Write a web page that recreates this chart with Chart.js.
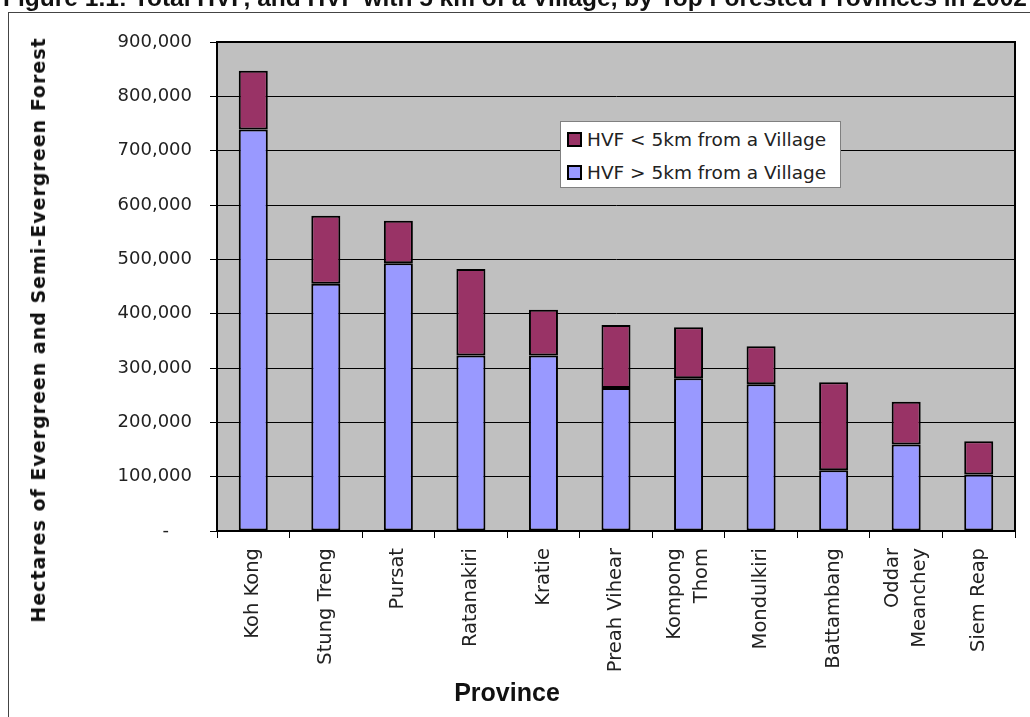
<!DOCTYPE html>
<html>
<head>
<meta charset="utf-8">
<script src="https://cdn.jsdelivr.net/npm/chart.js@4.4.1/dist/chart.umd.min.js"></script>
<style>
  html, body { margin: 0; padding: 0; background: #fff; overflow: hidden; }
  #wrap { position: relative; width: 1030px; height: 717px; overflow: hidden; }
  #frame { position: absolute; left: 8px; top: 12px; width: 1100px; height: 800px; border: 1.5px solid #444; }
  canvas { position: absolute; left: 0; top: 0; }
  .txt { position: absolute; white-space: nowrap; color: #111; }
  #title { left: -100px; width: 1230px; top: -16px; text-align: center; line-height: 24px;
           font: bold 24.5px "Liberation Sans Narrow", sans-serif; }
  #ytitle { left: 38px; top: 330px; transform: translate(-50%, -50%) rotate(-90deg);
            font: bold 19px "DejaVu Sans", sans-serif; letter-spacing: 1px; }
  #xtitle { left: 507px; top: 692px; transform: translate(-50%, -50%);
            font: bold 25px "Liberation Sans Narrow", sans-serif; }
  #legend { position: absolute; left: 560px; top: 121px; width: 281px; height: 67px;
            background: #fff; border: 1px solid #808080; box-sizing: border-box;
            font: 18.5px "DejaVu Sans", sans-serif; color: #222; }
  #legend div { position: absolute; left: 6px; height: 20px; line-height: 20px; }
  #legend span { display: inline-block; width: 11px; height: 11px; border: 2px solid #000;
                 vertical-align: -1px; margin-right: 5px; }
</style>
</head>
<body>
<div id="wrap">
  <div id="frame"></div>
  <canvas id="chart" width="1030" height="717"></canvas>
  <div id="title" class="txt">Figure 1.1: Total HVF, and HVF with 5 km of a Village, by Top Forested Provinces in 2002</div>
  <div id="ytitle" class="txt">Hectares of Evergreen and Semi-Evergreen Forest</div>
  <div id="xtitle" class="txt">Province</div>
  <div id="legend"></div>
</div>
<script>
/* HVF by province, 2002 (hectares) */
const provinces = [
  ['Koh Kong'], ['Stung Treng'], ['Pursat'], ['Ratanakiri'], ['Kratie'],
  ['Preah Vihear'], ['Kompong', 'Thom'], ['Mondulkiri'], ['Battambang'],
  ['Oddar', 'Meanchey'], ['Siem Reap']
];
const farFromVillage  = [739000, 455000, 493000, 323000, 323000, 263000, 281000, 270000, 112000, 159000, 104000];
const nearVillage     = [108000, 125000,  78000, 159000,  84000, 116000,  94000,  70000, 162000,  79000,  61000];
const yTicks = { min: 0, max: 900000, step: 100000 };

const COLORS = { near: '#993366', far: '#9999FF' };

const seriesNear = 'HVF < 5km from a Village';
const seriesFar  = 'HVF > 5km from a Village';

/* ── legend box (drawn in HTML, sits inside the plot) ── */
const legend = document.getElementById('legend');
[[seriesNear, COLORS.near], [seriesFar, COLORS.far]].forEach(([name, col], i) => {
  const row = document.createElement('div');
  row.style.top = (8 + i * 33) + 'px';
  row.innerHTML = `<span style="background:${col}"></span>${name}`;
  legend.appendChild(row);
});

/* gray plot area + black frame round it */
const plotArea = {
  id: 'plotArea',
  beforeDraw(chart) {
    const { ctx, chartArea: a } = chart;
    ctx.save();
    ctx.fillStyle = '#C0C0C0';
    ctx.fillRect(a.left, a.top, a.right - a.left, a.bottom - a.top);
    ctx.restore();
  },
  beforeDatasetsDraw(chart) {
    const { ctx, chartArea: a } = chart;
    ctx.save();
    ctx.strokeStyle = '#000';
    ctx.lineWidth = 2;
    ctx.strokeRect(a.left, a.top, a.right - a.left, a.bottom - a.top);
    ctx.restore();
  }
};

/* rotated category labels, multi-line ones centred on the tick */
const xLabels = {
  id: 'xLabels',
  afterDraw(chart) {
    const { ctx } = chart;
    const sx = chart.scales.x;
    const lh = 27;
    ctx.save();
    ctx.font = '19.5px "DejaVu Sans"';
    ctx.fillStyle = '#222';
    ctx.textAlign = 'right';
    ctx.textBaseline = 'middle';
    chart.data.labels.forEach((lines, i) => {
      const px = sx.getPixelForTick(i);
      lines.forEach((line, j) => {
        const cx = px + (j - (lines.length - 1) / 2) * lh;
        ctx.save();
        ctx.translate(cx, sx.top + 17);
        ctx.rotate(-Math.PI / 2);
        ctx.fillText(line, 0, 0);
        ctx.restore();
      });
    });
    ctx.restore();
  }
};

new Chart(document.getElementById('chart'), {
  type: 'bar',
  data: {
    labels: provinces,
    datasets: [
      {
        label: seriesFar,
        data: farFromVillage,
        backgroundColor: COLORS.far,
        borderColor: '#000', borderWidth: 2, borderSkipped: false,
        barPercentage: 0.4, categoryPercentage: 1
      },
      {
        label: seriesNear,
        data: nearVillage,
        backgroundColor: COLORS.near,
        borderColor: '#000', borderWidth: 2, borderSkipped: false,
        barPercentage: 0.4, categoryPercentage: 1
      }
    ]
  },
  options: {
    responsive: false, devicePixelRatio: 1, animation: false,
    layout: { padding: { left: 0, right: 15, top: 42, bottom: 0 } },
    plugins: { legend: { display: false }, tooltip: { enabled: false } },
    scales: {
      x: {
        stacked: true,
        grid: { drawOnChartArea: false, color: '#000', tickLength: 7, offset: true },
        border: { color: '#000', width: 2 },
        ticks: { display: false },
        afterFit: s => { s.height = 186; }
      },
      y: {
        stacked: true,
        min: yTicks.min, max: yTicks.max,
        ticks: {
          stepSize: yTicks.step, padding: 18, color: '#222',
          font: { family: 'DejaVu Sans', size: 18 },
          callback: v => v === 0 ? '-    ' : v.toLocaleString('en-US')
        },
        grid: { color: '#000', tickLength: 7 },
        border: { color: '#000', width: 2 },
        afterFit: s => { s.width = 217; }
      }
    }
  },
  plugins: [plotArea, xLabels]
});
</script>
</body>
</html>
